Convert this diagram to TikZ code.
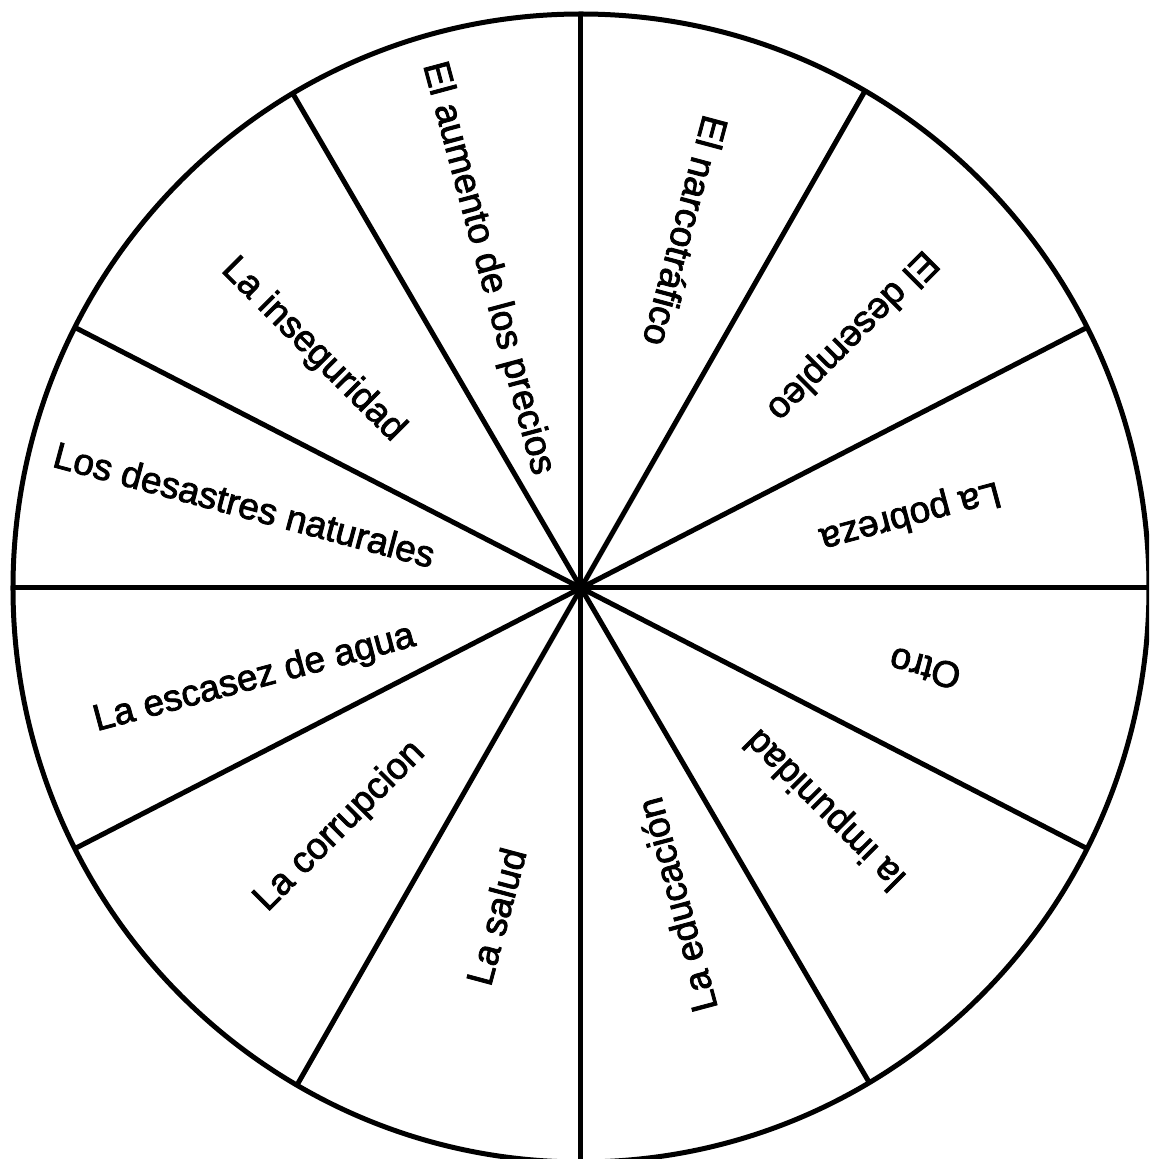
\documentclass[tikz,border=0pt]{standalone}
\usepackage{fontspec}
\setmainfont[FakeBold=2.2]{Liberation Sans}
\begin{document}
\begin{tikzpicture}[x=1pt,y=1pt,
  lbl/.style={inner sep=0pt, font=\fontsize{37}{44}\selectfont},
  rim/.style={line width=5pt}]
\useasboundingbox (-581,-571) rectangle (568,588);
\clip (-581,-571) rectangle (568,588);
\coordinate (c) at (0,0);
\draw[rim] (c) ellipse [x radius=568, y radius=574];
\foreach \a [count=\i] in {0,27,60,90,120.5,153,180,207,240,270,300.5,333} {
  \coordinate (s\i) at (\a:568 and 574);
  \draw[rim] (c) -- (s\i);
}
\node[lbl, rotate=-75]  (aumento)     at (-93.5, 319.5) {El aumento de los precios};
\node[lbl, rotate=-105] (narco)       at (105, 357)     {El narcotráfico};
\node[lbl, rotate=-135] (desempleo)   at (270.5, 253)   {El desempleo};
\node[lbl, rotate=195]  (pobreza)     at (329, 73)      {La pobreza};
\node[lbl, rotate=165]  (otro)        at (344, -80.5)   {Otro};
\node[lbl, rotate=135]  (impunidad)   at (245.5, -220.5){la impunidad};
\node[lbl, rotate=105]  (educacion)   at (95.5, -317)   {La educación};
\node[lbl, rotate=75]   (salud)       at (-85, -328.5)  {La salud};
\node[lbl, rotate=45]   (corrupcion)  at (-241, -238.5) {La corrupcion};
\node[lbl, rotate=15]   (escasez)     at (-326.5, -91)  {La escasez de agua};
\node[lbl, rotate=-15]  (desastres)   at (-336.5, 83.5) {Los desastres naturales};
\node[lbl, rotate=-45]  (inseguridad) at (-268, 238)    {La inseguridad};
\end{tikzpicture}
\end{document}
